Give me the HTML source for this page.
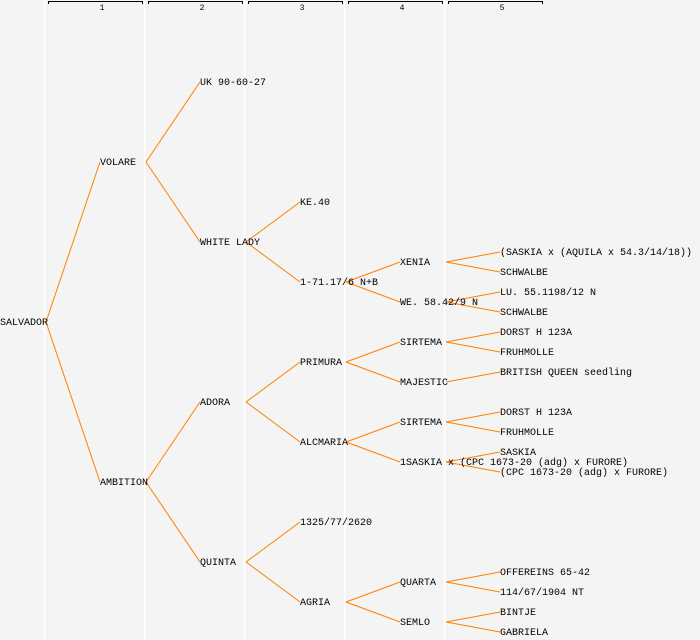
<!DOCTYPE html>
<html><head><meta charset="utf-8"><style>
html,body{margin:0;padding:0;background:#f4f4f4;}
svg{display:block}
text{font-family:"Liberation Mono","DejaVu Sans Mono",monospace;font-size:10px;fill:#000;}
.h{font-size:8px;text-anchor:middle}
line.e{stroke:#ff8000;stroke-width:1}
</style></head><body>
<svg width="700" height="640" viewBox="0 0 700 640" xmlns="http://www.w3.org/2000/svg">
<rect width="700" height="640" fill="#f4f4f4"/>
<g stroke="#ffffff" stroke-width="1.5">
<line x1="44.5" y1="0" x2="44.5" y2="640"/><line x1="144.5" y1="0" x2="144.5" y2="640"/>
<line x1="244.5" y1="0" x2="244.5" y2="640"/><line x1="344.5" y1="0" x2="344.5" y2="640"/>
<line x1="444.5" y1="0" x2="444.5" y2="640"/>
</g>
<g stroke="#000" stroke-width="1" fill="none">
<path d="M48.5 4V1.5H142.5V4"/><path d="M148.5 4V1.5H242.5V4"/><path d="M248.5 4V1.5H342.5V4"/>
<path d="M348.5 4V1.5H442.5V4"/><path d="M448.5 4V1.5H542.5V4"/>
</g>
<text class="h" x="102" y="10">1</text><text class="h" x="202" y="10">2</text><text class="h" x="302" y="10">3</text><text class="h" x="402" y="10">4</text><text class="h" x="502" y="10">5</text>
<g>
<line class="e" x1="46" y1="322" x2="100" y2="162"/><line class="e" x1="46" y1="322" x2="100" y2="482"/>
<line class="e" x1="146" y1="162" x2="200" y2="82"/><line class="e" x1="146" y1="162" x2="200" y2="242"/>
<line class="e" x1="246" y1="242" x2="300" y2="202"/><line class="e" x1="246" y1="242" x2="300" y2="282"/>
<line class="e" x1="346" y1="282" x2="400" y2="262"/><line class="e" x1="346" y1="282" x2="400" y2="302"/>
<line class="e" x1="446" y1="262" x2="500" y2="252"/><line class="e" x1="446" y1="262" x2="500" y2="272"/>
<line class="e" x1="446" y1="302" x2="500" y2="292"/><line class="e" x1="446" y1="302" x2="500" y2="312"/>
<line class="e" x1="146" y1="482" x2="200" y2="402"/><line class="e" x1="146" y1="482" x2="200" y2="562"/>
<line class="e" x1="246" y1="402" x2="300" y2="362"/><line class="e" x1="246" y1="402" x2="300" y2="442"/>
<line class="e" x1="346" y1="362" x2="400" y2="342"/><line class="e" x1="346" y1="362" x2="400" y2="382"/>
<line class="e" x1="446" y1="342" x2="500" y2="332"/><line class="e" x1="446" y1="342" x2="500" y2="352"/>
<line class="e" x1="446" y1="382" x2="500" y2="372"/>
<line class="e" x1="346" y1="442" x2="400" y2="422"/><line class="e" x1="346" y1="442" x2="400" y2="462"/>
<line class="e" x1="446" y1="422" x2="500" y2="412"/><line class="e" x1="446" y1="422" x2="500" y2="432"/>
<line class="e" x1="446" y1="462" x2="500" y2="452"/><line class="e" x1="446" y1="462" x2="500" y2="472"/>
<line class="e" x1="246" y1="562" x2="300" y2="522"/><line class="e" x1="246" y1="562" x2="300" y2="602"/>
<line class="e" x1="346" y1="602" x2="400" y2="582"/><line class="e" x1="346" y1="602" x2="400" y2="622"/>
<line class="e" x1="446" y1="582" x2="500" y2="572"/><line class="e" x1="446" y1="582" x2="500" y2="592"/>
<line class="e" x1="446" y1="622" x2="500" y2="612"/><line class="e" x1="446" y1="622" x2="500" y2="632"/>
</g>
<g transform="translate(0,-1)">
<text x="0" y="326">SALVADOR</text>
<text x="100" y="166">VOLARE</text>
<text x="100" y="486">AMBITION</text>
<text x="200" y="86">UK 90-60-27</text>
<text x="200" y="246">WHITE LADY</text>
<text x="200" y="406">ADORA</text>
<text x="200" y="566">QUINTA</text>
<text x="300" y="206">KE.40</text>
<text x="300" y="286">1-71.17/6 N+B</text>
<text x="300" y="366">PRIMURA</text>
<text x="300" y="446">ALCMARIA</text>
<text x="300" y="526">1325/77/2620</text>
<text x="300" y="606">AGRIA</text>
<text x="400" y="266">XENIA</text>
<text x="400" y="306">WE. 58.42/9 N</text>
<text x="400" y="346">SIRTEMA</text>
<text x="400" y="386">MAJESTIC</text>
<text x="400" y="426">SIRTEMA</text>
<text x="400" y="466">1SASKIA x (CPC 1673-20 (adg) x FURORE)</text>
<text x="400" y="586">QUARTA</text>
<text x="400" y="626">SEMLO</text>
<text x="500" y="256">(SASKIA x (AQUILA x 54.3/14/18))</text>
<text x="500" y="276">SCHWALBE</text>
<text x="500" y="296">LU. 55.1198/12 N</text>
<text x="500" y="316">SCHWALBE</text>
<text x="500" y="336">DORST H 123A</text>
<text x="500" y="356">FRUHMOLLE</text>
<text x="500" y="376">BRITISH QUEEN seedling</text>
<text x="500" y="416">DORST H 123A</text>
<text x="500" y="436">FRUHMOLLE</text>
<text x="500" y="456">SASKIA</text>
<text x="500" y="476">(CPC 1673-20 (adg) x FURORE)</text>
<text x="500" y="576">OFFEREINS 65-42</text>
<text x="500" y="596">114/67/1904 NT</text>
<text x="500" y="616">BINTJE</text>
<text x="500" y="636">GABRIELA</text>
</g>
</svg>
</body></html>
